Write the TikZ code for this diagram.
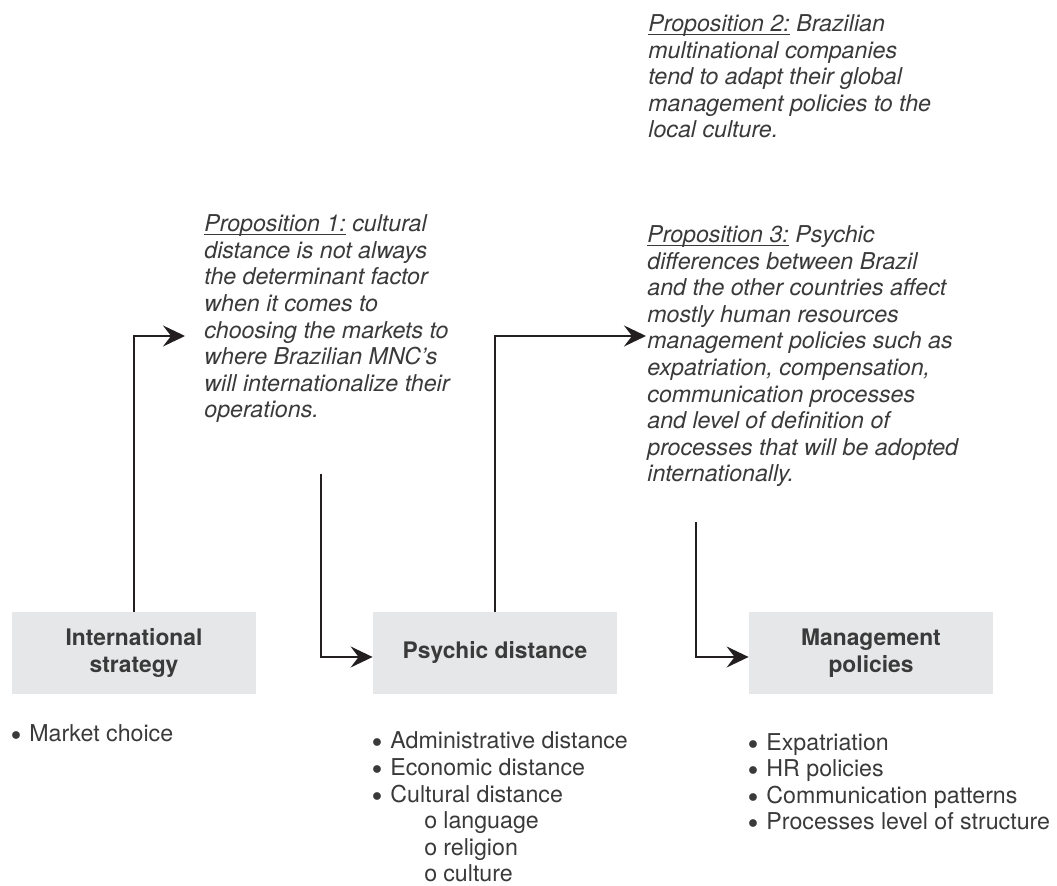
\documentclass[tikz,border=0pt]{standalone}
\usepackage{fontspec}
\setmainfont{TeX Gyre Heros}
\usepackage{tikz}
\usetikzlibrary{arrows.meta}
\definecolor{Ink}{HTML}{3A3A3A}
\definecolor{Rule}{HTML}{231F20}
\definecolor{BoxFill}{HTML}{E6E7E8}
\newcommand{\FigFont}{\fontsize{11.6}{13.3}\selectfont}
\newcommand{\PropLabel}[1]{{\setbox0\hbox{#1}\rlap{\rule[-1.6pt]{\wd0}{0.5pt}}\box0}}
\newcommand{\Bul}{\makebox[8.5pt][l]{\hspace{-0.6pt}\raisebox{0.5pt}{\fontsize{10}{0}\selectfont$\bullet$}}}
\newcommand{\Sub}{\hspace*{25.5pt}\makebox[9.5pt][l]{o}}
\tikzset{
  factor/.style={fill=BoxFill,text=Ink,font=\fontsize{11.4}{13.3}\selectfont\bfseries,align=center,
    minimum width=122pt,minimum height=41pt,inner sep=0pt},
  prop/.style={anchor=base west,inner sep=0pt,align=left,text=Ink,font=\FigFont\itshape},
  items/.style={anchor=base west,inner sep=0pt,align=left,text=Ink,font=\FigFont},
  link/.style={draw=Rule,line width=1pt,-{Stealth[length=11pt,width=10.5pt,inset=4pt]}}
}

\begin{document}
\begin{tikzpicture}[x=0.5pt,y=-0.5pt]
\useasboundingbox (0,0) rectangle (1057,886);
% the three factors
\node[factor] (intl) at (134,653) {International\\strategy};
\node[factor] (psy) at (495,653) {Psychic distance};
\node[factor] (mgmt) at (871,653) {Management\\policies};
% propositions (placed by their last baseline)
\node[prop] (p2) at (648,138) {\PropLabel{Proposition 2:} Brazilian\\
  multinational companies\\
  tend to adapt their global\\
  management policies to the\\
  local culture.};
\node[prop] (p1) at (204,418) {\PropLabel{Proposition 1:} cultural\\
  distance is not always\\
  the determinant factor\\
  when it comes to\\
  choosing the markets to\\
  where Brazilian MNC’s\\
  will internationalize their\\
  operations.};
\node[prop] (p3) at (647,482) {\PropLabel{Proposition 3:} Psychic\\
  differences between Brazil\\
  and the other countries affect\\
  mostly human resources\\
  management policies such as\\
  expatriation, compensation,\\
  communication processes\\
  and level of definition of\\
  processes that will be adopted\\
  internationally.};
% connectors
\coordinate (tip1) at (185,336);
\coordinate (tip3) at (646,336);
\coordinate (from1) at (321,474);
\coordinate (from3) at (696,522);
\draw[link] (intl.north) |- (tip1);
\draw[link] (from1) |- ([yshift=-2pt]psy.west);
\draw[link] (psy.north) |- (tip3);
\draw[link] (from3) |- ([yshift=-2pt]mgmt.west);
% dimensions
\node[items] (intlitems) at (12,742) {\Bul Market choice};
\node[items] (psyitems) at (373,882) {\Bul Administrative distance\\
  \Bul Economic distance\\
  \Bul Cultural distance\\
  \Sub language\\
  \Sub religion\\
  \Sub culture};
\node[items] (mgmtitems) at (749,830) {\Bul Expatriation\\
  \Bul HR policies\\
  \Bul Communication patterns\\
  \Bul Processes level of structure};
\end{tikzpicture}
\end{document}
